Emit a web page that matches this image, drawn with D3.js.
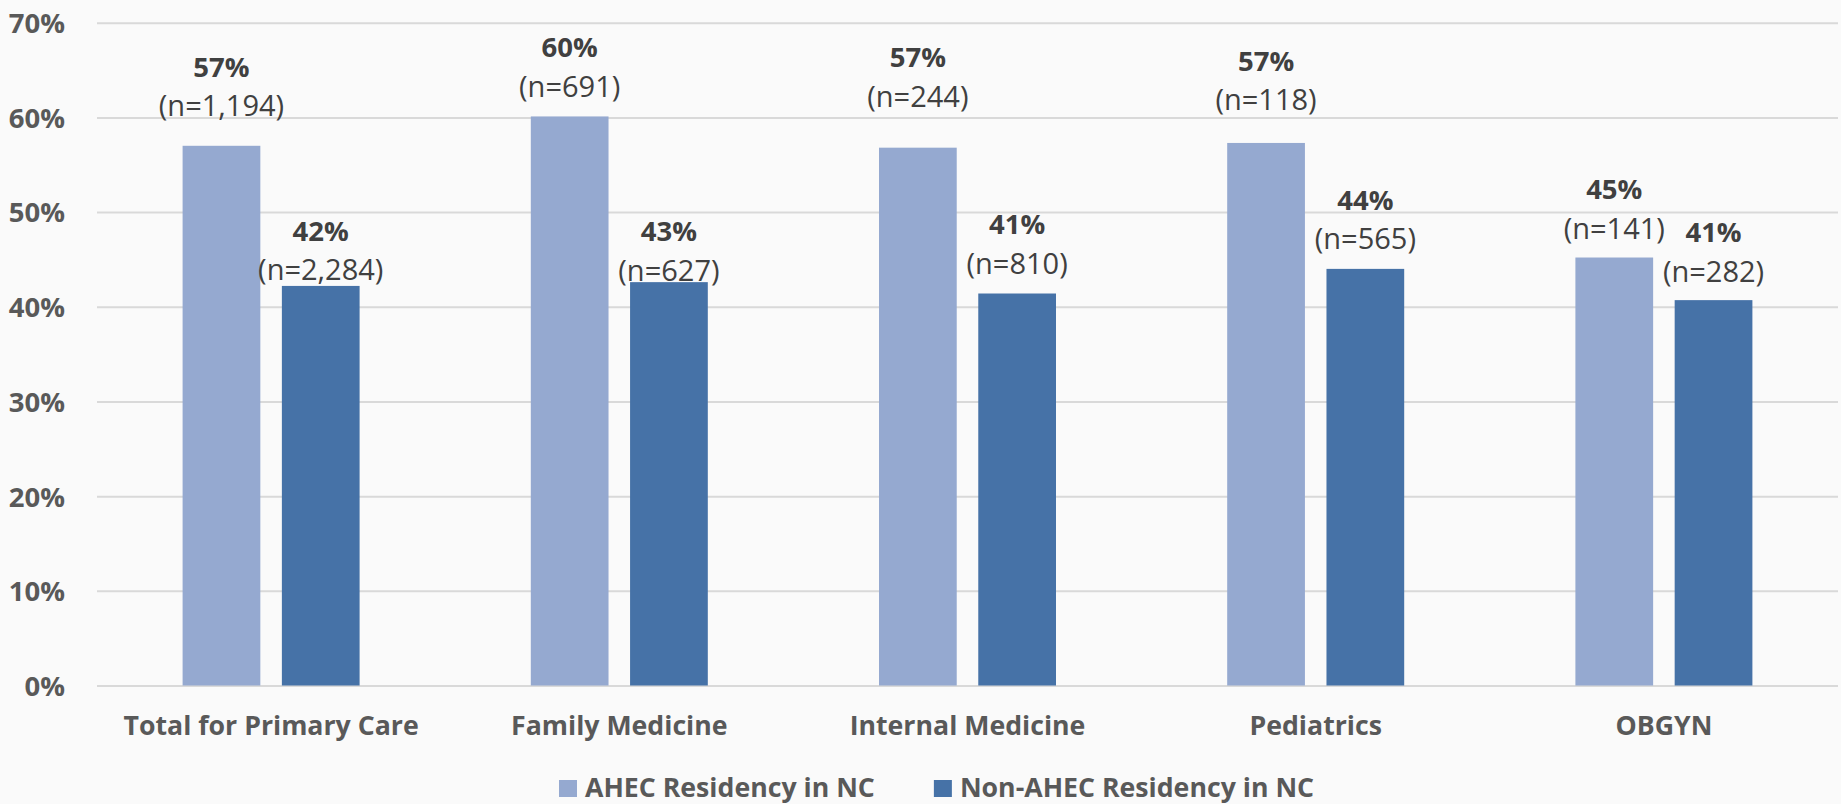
<!doctype html>
<html>
<head>
<meta charset="utf-8">
<title>AHEC vs Non-AHEC Residency in NC</title>
<script src="https://d3js.org/d3.v7.min.js"></script>
<style>
  body { margin: 0; background: #fafafa; }
  svg { display: block; }
  svg text { font-family: "Open Sans", "Noto Sans", sans-serif; }
  .grid line { stroke: #d9d9d9; stroke-width: 2; }
  .axis text { font-weight: bold; fill: #595959; }
  .pct { font-weight: bold; fill: #404040; }
  .cnt { fill: #404040; }
</style>
</head>
<body>
<script>

// data
var categories = ["Total for Primary Care", "Family Medicine", "Internal Medicine", "Pediatrics", "OBGYN"];
var series = ["AHEC Residency in NC", "Non-AHEC Residency in NC"];
var ahecPct = [57.0, 60.1, 56.8, 57.3, 45.2];
var nonAhecPct = [42.2, 42.6, 41.4, 44.0, 40.7];
var ahecN = [1194, 691, 244, 118, 141];
var nonAhecN = [2284, 627, 810, 565, 282];
var yTicks = [0, 10, 20, 30, 40, 50, 60, 70];

// label lift above the bar top (px), labels were placed by hand in the original
var ahecLabelGap = [40, 30, 51, 43, 29];
var nonAhecLabelGap = [16, 12, 30, 30, 29];

var colors = ["#95a9d0", "#4672a7"];

var W = 1841, H = 804;
var plotLeft = 97, plotRight = 1838, plotTop = 22.7, plotBottom = 685.5;

var svg = d3.select("body").append("svg")
    .attr("width", W)
    .attr("height", H);

svg.append("rect")
    .attr("width", W)
    .attr("height", H)
    .attr("fill", "#fafafa");

var x0 = d3.scaleBand()
    .domain(categories)
    .range([plotLeft, plotRight]);

var half = 88.5;
var x1 = d3.scaleBand()
    .domain(series)
    .range([x0.bandwidth() / 2 - half, x0.bandwidth() / 2 + half])
    .paddingInner(0.217);

var y = d3.scaleLinear()
    .domain([0, 70])
    .range([plotBottom, plotTop]);

// y axis + gridlines
var yAxis = svg.append("g")
    .attr("class", "axis grid")
    .attr("transform", "translate(" + plotLeft + ",0)")
    .call(d3.axisLeft(y)
      .tickValues(yTicks)
      .tickSize(-(plotRight - plotLeft))
      .tickPadding(32)
      .tickFormat(function(d) { return d + "%"; }));
yAxis.attr("font-family", null);
yAxis.select(".domain").remove();
yAxis.selectAll("text")
    .style("font-size", "27.5px")
    .attr("dy", "0.36em");

// build rows for each series
var rows = [];
categories.forEach(function(c, i) {
  rows.push({cat: c, s: series[0], v: ahecPct[i], n: ahecN[i], gap: ahecLabelGap[i], col: colors[0]});
  rows.push({cat: c, s: series[1], v: nonAhecPct[i], n: nonAhecN[i], gap: nonAhecLabelGap[i], col: colors[1]});
});

svg.selectAll(".bar")
    .data(rows)
    .enter().append("rect")
    .attr("class", "bar")
    .attr("x", function(d) { return x0(d.cat) + x1(d.s); })
    .attr("width", x1.bandwidth())
    .attr("y", function(d) { return y(d.v); })
    .attr("height", function(d) { return plotBottom - y(d.v); })
    .attr("fill", function(d) { return d.col; });

var fmtN = d3.format(",");

// (n=...) labels
svg.selectAll(".cnt")
    .data(rows)
    .enter().append("text")
    .attr("class", "cnt")
    .attr("x", function(d) { return x0(d.cat) + x1(d.s) + x1.bandwidth() / 2; })
    .attr("y", function(d) { return y(d.v) - d.gap + 10.4; })
    .attr("text-anchor", "middle")
    .style("font-size", "29px")
    .text(function(d) { return "(n=" + fmtN(d.n) + ")"; });

// percent labels
svg.selectAll(".pct")
    .data(rows)
    .enter().append("text")
    .attr("class", "pct")
    .attr("x", function(d) { return x0(d.cat) + x1(d.s) + x1.bandwidth() / 2; })
    .attr("y", function(d) { return y(d.v) - d.gap - 39 + 9.8; })
    .attr("text-anchor", "middle")
    .style("font-size", "27.5px")
    .text(function(d) { return Math.round(d.v) + "%"; });

// x axis
var xAxis = svg.append("g")
    .attr("class", "axis")
    .attr("transform", "translate(0," + plotBottom + ")")
    .call(d3.axisBottom(x0).tickSize(0).tickPadding(31));
xAxis.attr("font-family", null);
xAxis.select(".domain").remove();
xAxis.selectAll("text")
    .style("font-size", "26.7px");

// legend
var legend = svg.append("g").attr("class", "axis");
var lx = 559;
series.forEach(function(s, i) {
  legend.append("rect")
      .attr("x", lx)
      .attr("y", 780)
      .attr("width", 18)
      .attr("height", 17)
      .attr("fill", colors[i]);
  var t = legend.append("text")
      .attr("x", lx + 26)
      .attr("y", 797)
      .style("font-size", "26.7px")
      .text(s);
  lx = lx + 26 + t.node().getComputedTextLength() + 59;
});

</script>
</body>
</html>
